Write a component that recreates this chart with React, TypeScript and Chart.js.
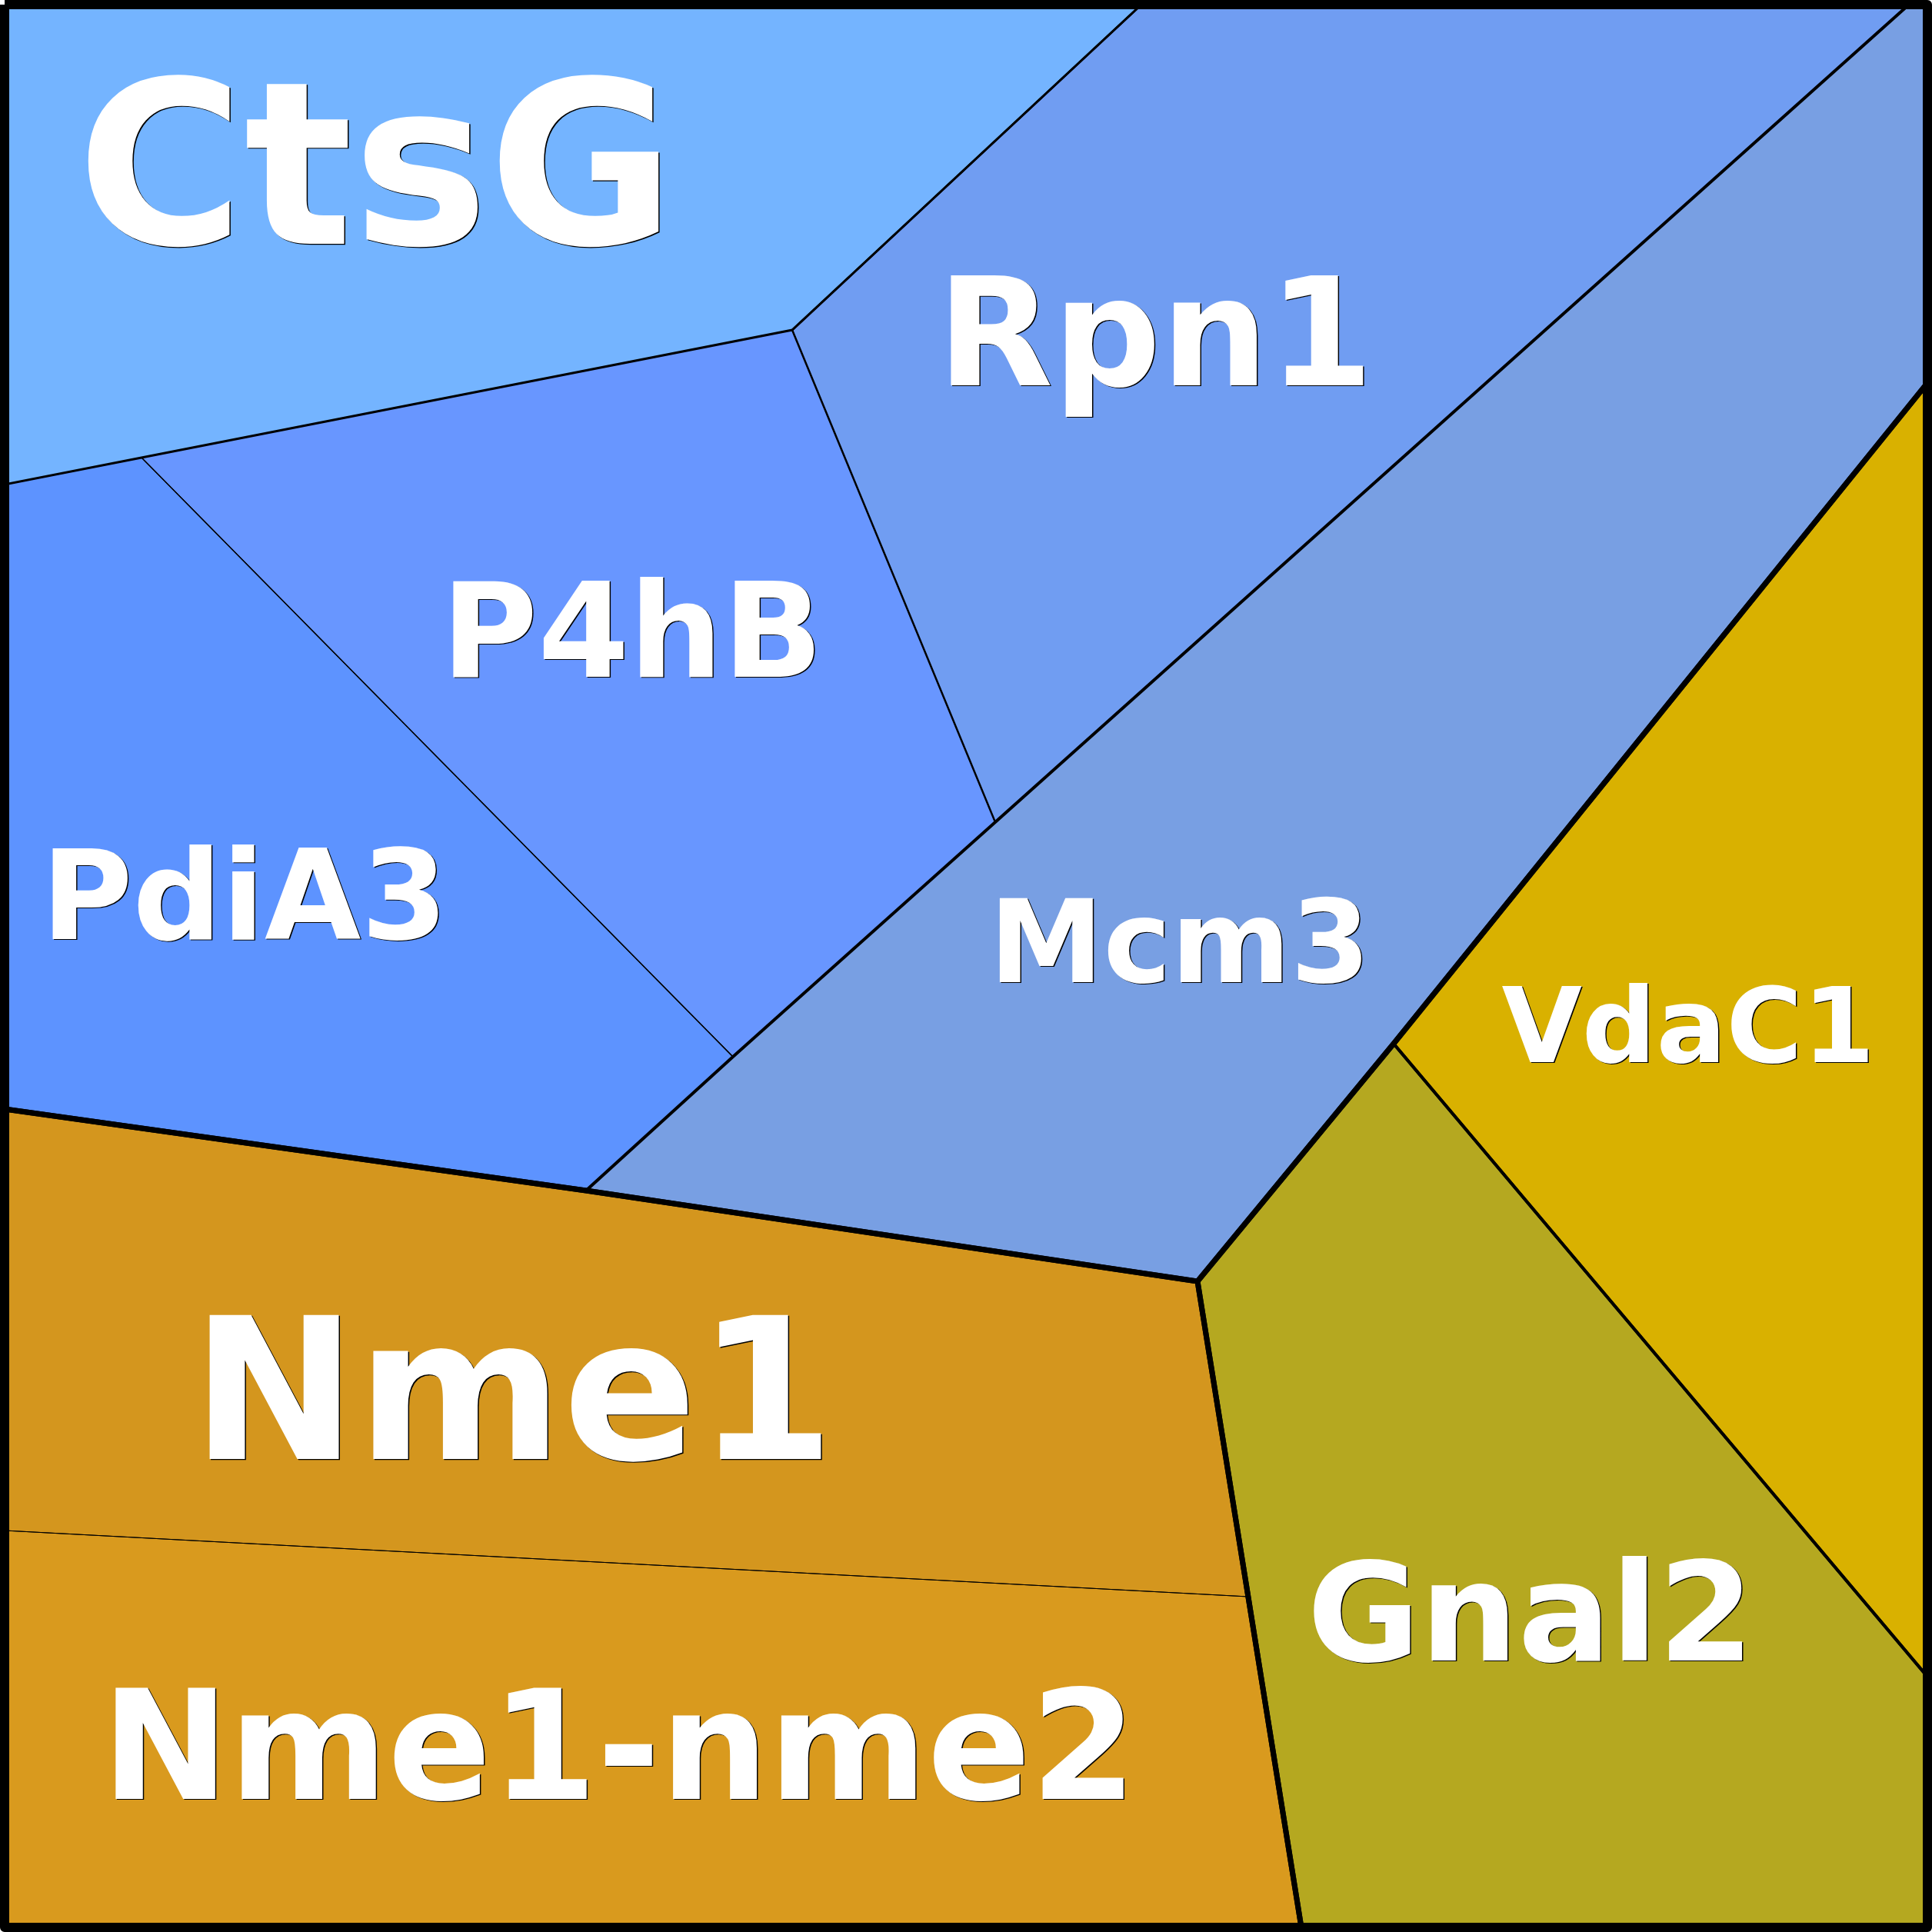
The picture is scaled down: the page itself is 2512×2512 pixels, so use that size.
import React, { useEffect, useRef } from "react";
import { Chart, registerables } from "chart.js";

Chart.register(...registerables);

// ---------- DATA (Voronoi treemap, in treemap units 0..2512) ----------
const cellNames = ["CtsG", "Rpn1", "P4hB", "PdiA3", "Mcm3", "VdaC1", "Gnal2", "Nme1", "Nme1-nme2"];

const ctsgCell = [[6, 6], [1484, 6], [1030, 429], [184, 595], [6, 630]];
const rpn1Cell = [[1484, 6], [2482, 6], [1294, 1069], [1030, 429]];
const p4hbCell = [[1030, 429], [1294, 1069], [953, 1374], [184, 595]];
const pdia3Cell = [[184, 595], [953, 1374], [762, 1548], [6, 1442], [6, 630]];
const mcm3Cell = [[2482, 6], [2506, 6], [2506, 498], [1812, 1357], [1557, 1666], [762, 1548], [953, 1374], [1294, 1069]];
const vdac1Cell = [[2506, 498], [2506, 2180], [1812, 1357]];
const gnal2Cell = [[1812, 1357], [2506, 2180], [2506, 2506], [1692, 2506], [1557, 1666]];
const nme1Cell = [[6, 1442], [762, 1548], [1557, 1666], [1623, 2076], [6, 1990]];
const nme1nme2Cell = [[6, 1990], [1623, 2076], [1692, 2506], [6, 2506]];

const cellPolygons = [ctsgCell, rpn1Cell, p4hbCell, pdia3Cell, mcm3Cell, vdac1Cell, gnal2Cell, nme1Cell, nme1nme2Cell];

// top-level groups
const blueGroup = [[6, 6], [2506, 6], [2506, 498], [1812, 1357], [1557, 1666], [762, 1548], [6, 1442]];
const orangeGroup = [[6, 1442], [762, 1548], [1557, 1666], [1692, 2506], [6, 2506]];
const yellowGroup = [[2506, 498], [2506, 2506], [1692, 2506], [1557, 1666], [1812, 1357]];
const groupPolygons = [blueGroup, orangeGroup, yellowGroup];

const frame = [[6, 6], [2506, 6], [2506, 2506], [6, 2506]];

// label anchors (treemap units, text baseline)
const labelX = [489, 1502, 822, 318, 1534, 2195, 1990, 667, 805];
const labelY = [317, 501, 880, 1221, 1277, 1381, 2159, 1897, 2339];

// ---------- STYLE ----------
const cellColors = ["#74B4FF", "#709DF2", "#6896FF", "#5D93FF", "#789FE3", "#D9B100", "#B5A820", "#D4961E", "#D99A1E"];
const cellBorderWidths = [3, 2.5, 1.3, 1.3, 4, 4, 4, 1, 1];
const labelFontPx = [296, 196, 171, 162, 149, 135, 179, 257, 198];

const toPts = (poly: number[][]) => {
  const pts = poly.map(([x, y]) => ({ x, y }));
  pts.push({ x: poly[0][0], y: poly[0][1] });
  return pts;
};

const labelPlugin = {
  id: "cellLabels",
  afterDatasetsDraw(chart: any) {
    const ctx = chart.ctx;
    const xs = chart.scales.x;
    const ys = chart.scales.y;
    ctx.save();
    ctx.textAlign = "center";
    ctx.textBaseline = "alphabetic";
    cellNames.forEach((name, i) => {
      const px = xs.getPixelForValue(labelX[i]);
      const py = ys.getPixelForValue(labelY[i]);
      ctx.font = `bold ${labelFontPx[i]}px "DejaVu Sans"`;
      ctx.fillStyle = "#000";
      ctx.fillText(name, px + 1.5, py + 1.2);
      ctx.fillStyle = "#FFFFFF";
      ctx.fillText(name, px, py);
    });
    ctx.restore();
  },
};

export default function App() {
  const ref = useRef<HTMLCanvasElement | null>(null);

  useEffect(() => {
    if (!ref.current) return;
    const cellSets = cellPolygons.map((poly, i) => ({
      label: cellNames[i],
      data: toPts(poly),
      showLine: true,
      fill: "shape",
      backgroundColor: cellColors[i],
      borderColor: "#000000",
      borderWidth: cellBorderWidths[i],
      borderJoinStyle: "miter",
      pointRadius: 0,
      pointHoverRadius: 0,
      tension: 0,
    }));
    const groupSets = groupPolygons.map((poly, i) => ({
      label: "group" + i,
      data: toPts(poly),
      showLine: true,
      fill: false,
      backgroundColor: "rgba(0,0,0,0)",
      borderColor: "#000000",
      borderWidth: 7,
      borderJoinStyle: "miter",
      pointRadius: 0,
      pointHoverRadius: 0,
      tension: 0,
    }));
    const frameSet = {
      label: "frame",
      data: toPts(frame),
      showLine: true,
      fill: false,
      backgroundColor: "rgba(0,0,0,0)",
      borderColor: "#000000",
      borderWidth: 12,
      borderJoinStyle: "round",
      pointRadius: 0,
      pointHoverRadius: 0,
      tension: 0,
    };

    const chart = new Chart(ref.current, {
      type: "scatter",
      data: { datasets: [frameSet, ...groupSets, ...cellSets] as any },
      options: {
        animation: false,
        responsive: false,
        maintainAspectRatio: false,
        devicePixelRatio: 1,
        events: [],
        layout: { padding: 0 },
        scales: {
          x: { type: "linear", min: 0, max: 2512, display: false },
          y: { type: "linear", min: 0, max: 2512, reverse: true, display: false },
        },
        plugins: {
          legend: { display: false },
          tooltip: { enabled: false },
          filler: { drawTime: "beforeDatasetsDraw", propagate: false },
        } as any,
      },
      plugins: [labelPlugin],
    });
    return () => chart.destroy();
  }, []);

  return (
    <div style={{ position: "fixed", left: 0, top: 0, width: 2512, height: 2512, background: "#fff" }}>
      <canvas ref={ref} width={2512} height={2512} style={{ width: 2512, height: 2512, display: "block" }} />
    </div>
  );
}
